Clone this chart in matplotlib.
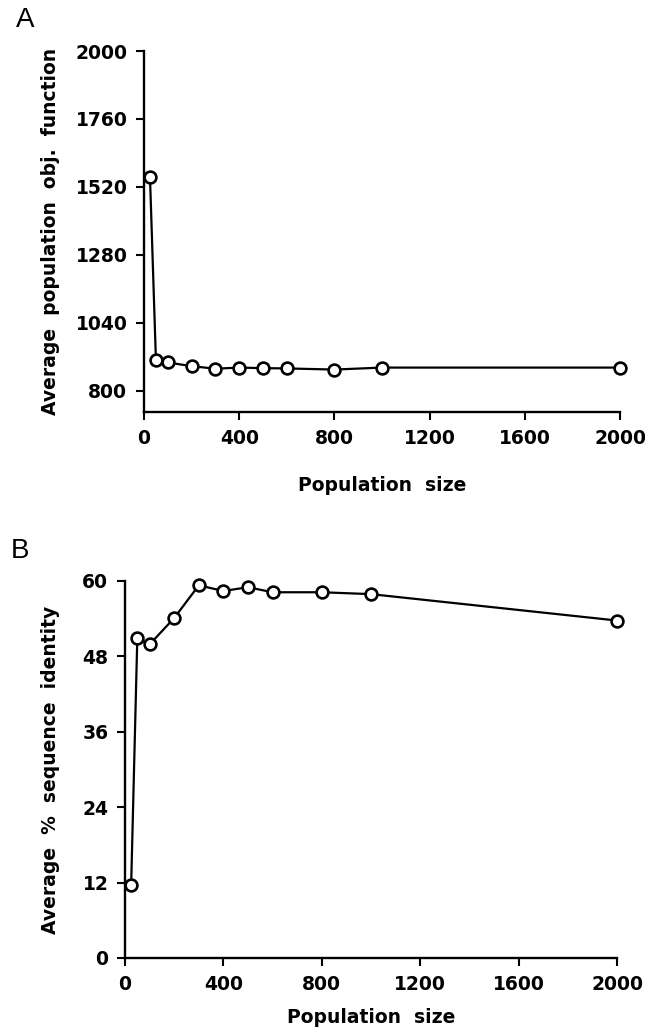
import matplotlib
matplotlib.use("Agg")
import matplotlib.pyplot as plt

# population sizes tested
pop_size = [25, 50, 100, 200, 300, 400, 500, 600, 800, 1000, 2000]
# panel A: average population objective function
avg_obj = [1556, 908, 900, 887, 878, 882, 880, 879, 875, 882, 882]
# panel B: average % sequence identity
avg_ident = [11.6, 50.9, 49.9, 54.1, 59.3, 58.4, 59.0, 58.2, 58.2, 57.9, 53.7]

a_yticks = [800, 1040, 1280, 1520, 1760, 2000]
b_yticks = [0, 12, 24, 36, 48, 60]
xticks = [0, 400, 800, 1200, 1600, 2000]

plt.rcParams['font.family'] = 'DejaVu Sans'
plt.rcParams['font.weight'] = 'bold'

fig = plt.figure(figsize=(6.45, 10.35), dpi=100)
axA = fig.add_axes([0.2233, 0.6019, 0.7380, 0.3488])
axB = fig.add_axes([0.1938, 0.0744, 0.7628, 0.3643])


def style(ax):
    for s in ['top', 'right']:
        ax.spines[s].set_visible(False)
    for s in ['left', 'bottom']:
        ax.spines[s].set_linewidth(1.7)
    ax.tick_params(direction='out', length=6, width=1.5, pad=6, labelsize=13.5)
    for lab in ax.get_xticklabels() + ax.get_yticklabels():
        lab.set_fontweight('heavy')


def draw(ax, y):
    ax.plot(pop_size, y, color='black', lw=1.6, marker='o', ms=8.5,
            mfc='white', mec='black', mew=1.9, clip_on=False, zorder=3)


draw(axA, avg_obj)
axA.set_xlim(0, 2000)
axA.set_ylim(725, 2000)
axA.set_xticks(xticks)
axA.set_yticks(a_yticks)
style(axA)
axA.set_xlabel('Population  size', fontsize=13.5, fontweight='heavy')
axA.set_ylabel('Average  population  obj.  function', fontsize=13.5, fontweight='heavy')
axA.xaxis.set_label_coords(0.5, -0.177)
axA.yaxis.set_label_coords(-0.176, 0.5)

draw(axB, avg_ident)
axB.set_xlim(0, 2000)
axB.set_ylim(0, 60)
axB.set_xticks(xticks)
axB.set_yticks(b_yticks)
style(axB)
axB.set_xlabel('Population  size', fontsize=13.5, fontweight='heavy')
axB.set_ylabel('Average  %  sequence  identity', fontsize=13.5, fontweight='heavy')
axB.xaxis.set_label_coords(0.5, -0.133)
axB.yaxis.set_label_coords(-0.132, 0.5)

fig.text(0.039, 0.981, 'A', fontsize=20, fontweight='normal', ha='center', va='center',
         family='Liberation Sans')
fig.text(0.031, 0.468, 'B', fontsize=20, fontweight='normal', ha='center', va='center',
         family='Liberation Sans')

fig.savefig('out.png', dpi=100, facecolor='white')
